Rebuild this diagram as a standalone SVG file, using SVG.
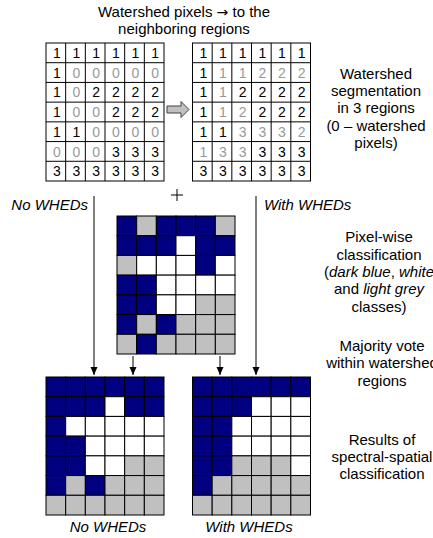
<svg xmlns="http://www.w3.org/2000/svg" width="433" height="538" viewBox="0 0 433 538">
<defs>
<style>
text{font-family:"Liberation Sans",Arial,sans-serif;font-size:15px;fill:#000}
.lbl{text-anchor:middle}
.it{font-style:italic}
.arr{font-family:"DejaVu Sans",sans-serif;font-size:14px}
.d{font-size:14px;text-anchor:middle}
.gd{fill:#999}
.c rect{stroke:#000;stroke-width:1}
.b{fill:#000080}.g{fill:#c0c0c0}.w{fill:#fff}
.ln{stroke:#000;stroke-width:1;fill:none}
</style>
<marker id="ah" markerUnits="userSpaceOnUse" markerWidth="8" markerHeight="8" refX="8" refY="3.5" orient="auto">
<path d="M0,0 L8,3.5 L0,7 z" fill="#000"/>
</marker>
</defs>
<rect width="433" height="538" fill="#fff"/>

<g id="title">
<text class="lbl" x="184" y="17">Watershed pixels <tspan class="arr">→</tspan> to the</text>
<text class="lbl" x="184" y="34">neighboring regions</text>
</g>

<g id="grid-watershed" class="c" transform="translate(46,43)">
<rect class="w" x="0" y="0" width="118" height="138"/>
<path class="ln" d="M19.67,0V138M39.33,0V138M59,0V138M78.67,0V138M98.33,0V138M0,19.71H118M0,39.43H118M0,59.14H118M0,78.86H118M0,98.57H118M0,118.29H118"/>
<g>
<text class="d" x="10.8" y="15">1</text><text class="d" x="30.5" y="15">1</text><text class="d" x="50.2" y="15">1</text><text class="d" x="69.8" y="15">1</text><text class="d" x="89.5" y="15">1</text><text class="d" x="109.2" y="15">1</text>
<text class="d" x="10.8" y="34.7">1</text><text class="d gd" x="30.5" y="34.7">0</text><text class="d gd" x="50.2" y="34.7">0</text><text class="d gd" x="69.8" y="34.7">0</text><text class="d gd" x="89.5" y="34.7">0</text><text class="d gd" x="109.2" y="34.7">0</text>
<text class="d" x="10.8" y="54.4">1</text><text class="d gd" x="30.5" y="54.4">0</text><text class="d" x="50.2" y="54.4">2</text><text class="d" x="69.8" y="54.4">2</text><text class="d" x="89.5" y="54.4">2</text><text class="d" x="109.2" y="54.4">2</text>
<text class="d" x="10.8" y="74.1">1</text><text class="d gd" x="30.5" y="74.1">0</text><text class="d gd" x="50.2" y="74.1">0</text><text class="d" x="69.8" y="74.1">2</text><text class="d" x="89.5" y="74.1">2</text><text class="d" x="109.2" y="74.1">2</text>
<text class="d" x="10.8" y="93.9">1</text><text class="d" x="30.5" y="93.9">1</text><text class="d gd" x="50.2" y="93.9">0</text><text class="d gd" x="69.8" y="93.9">0</text><text class="d gd" x="89.5" y="93.9">0</text><text class="d gd" x="109.2" y="93.9">0</text>
<text class="d gd" x="10.8" y="113.6">0</text><text class="d gd" x="30.5" y="113.6">0</text><text class="d gd" x="50.2" y="113.6">0</text><text class="d" x="69.8" y="113.6">3</text><text class="d" x="89.5" y="113.6">3</text><text class="d" x="109.2" y="113.6">3</text>
<text class="d" x="10.8" y="133.3">3</text><text class="d" x="30.5" y="133.3">3</text><text class="d" x="50.2" y="133.3">3</text><text class="d" x="69.8" y="133.3">3</text><text class="d" x="89.5" y="133.3">3</text><text class="d" x="109.2" y="133.3">3</text>
</g>
</g>

<g id="block-arrow">
<polygon points="167,106 181,106 181,101.5 189,109.5 181,117.5 181,113 167,113" fill="#c0c0c0" stroke="#404040" stroke-width="1"/>
</g>

<g id="grid-filled" class="c" transform="translate(192.5,43)">
<rect class="w" x="0" y="0" width="118" height="138"/>
<path class="ln" d="M19.67,0V138M39.33,0V138M59,0V138M78.67,0V138M98.33,0V138M0,19.71H118M0,39.43H118M0,59.14H118M0,78.86H118M0,98.57H118M0,118.29H118"/>
<g>
<text class="d" x="10.8" y="15">1</text><text class="d" x="30.5" y="15">1</text><text class="d" x="50.2" y="15">1</text><text class="d" x="69.8" y="15">1</text><text class="d" x="89.5" y="15">1</text><text class="d" x="109.2" y="15">1</text>
<text class="d" x="10.8" y="34.7">1</text><text class="d gd" x="30.5" y="34.7">1</text><text class="d gd" x="50.2" y="34.7">1</text><text class="d gd" x="69.8" y="34.7">2</text><text class="d gd" x="89.5" y="34.7">2</text><text class="d gd" x="109.2" y="34.7">2</text>
<text class="d" x="10.8" y="54.4">1</text><text class="d gd" x="30.5" y="54.4">1</text><text class="d" x="50.2" y="54.4">2</text><text class="d" x="69.8" y="54.4">2</text><text class="d" x="89.5" y="54.4">2</text><text class="d" x="109.2" y="54.4">2</text>
<text class="d" x="10.8" y="74.1">1</text><text class="d gd" x="30.5" y="74.1">1</text><text class="d gd" x="50.2" y="74.1">2</text><text class="d" x="69.8" y="74.1">2</text><text class="d" x="89.5" y="74.1">2</text><text class="d" x="109.2" y="74.1">2</text>
<text class="d" x="10.8" y="93.9">1</text><text class="d" x="30.5" y="93.9">1</text><text class="d gd" x="50.2" y="93.9">3</text><text class="d gd" x="69.8" y="93.9">3</text><text class="d gd" x="89.5" y="93.9">3</text><text class="d gd" x="109.2" y="93.9">2</text>
<text class="d gd" x="10.8" y="113.6">1</text><text class="d gd" x="30.5" y="113.6">3</text><text class="d gd" x="50.2" y="113.6">3</text><text class="d" x="69.8" y="113.6">3</text><text class="d" x="89.5" y="113.6">3</text><text class="d" x="109.2" y="113.6">3</text>
<text class="d" x="10.8" y="133.3">3</text><text class="d" x="30.5" y="133.3">3</text><text class="d" x="50.2" y="133.3">3</text><text class="d" x="69.8" y="133.3">3</text><text class="d" x="89.5" y="133.3">3</text><text class="d" x="109.2" y="133.3">3</text>
</g>
</g>

<g id="label-watershed">
<text class="lbl" x="376" y="79">Watershed</text>
<text class="lbl" x="376" y="96">segmentation</text>
<text class="lbl" x="376" y="113">in 3 regions</text>
<text class="lbl" x="376" y="131">(0 – watershed</text>
<text class="lbl" x="376" y="148">pixels)</text>
</g>

<g id="plus">
<path class="ln" d="M171,195H183M177,189V201"/>
</g>

<g id="label-no-top"><text class="it" x="88" y="210" text-anchor="end">No WHEDs</text></g>
<g id="label-with-top"><text class="it" x="264" y="210">With WHEDs</text></g>

<g id="grid-pixelwise" class="c" transform="translate(117,216)">
<rect class="b" x="0" y="0" width="19.67" height="19.71"/><rect class="g" x="19.67" y="0" width="19.67" height="19.71"/><rect class="b" x="39.33" y="0" width="19.67" height="19.71"/><rect class="b" x="59" y="0" width="19.67" height="19.71"/><rect class="b" x="78.67" y="0" width="19.67" height="19.71"/><rect class="g" x="98.33" y="0" width="19.67" height="19.71"/>
<rect class="b" x="0" y="19.71" width="19.67" height="19.71"/><rect class="b" x="19.67" y="19.71" width="19.67" height="19.71"/><rect class="b" x="39.33" y="19.71" width="19.67" height="19.71"/><rect class="w" x="59" y="19.71" width="19.67" height="19.71"/><rect class="b" x="78.67" y="19.71" width="19.67" height="19.71"/><rect class="b" x="98.33" y="19.71" width="19.67" height="19.71"/>
<rect class="g" x="0" y="39.43" width="19.67" height="19.71"/><rect class="w" x="19.67" y="39.43" width="19.67" height="19.71"/><rect class="w" x="39.33" y="39.43" width="19.67" height="19.71"/><rect class="w" x="59" y="39.43" width="19.67" height="19.71"/><rect class="b" x="78.67" y="39.43" width="19.67" height="19.71"/><rect class="w" x="98.33" y="39.43" width="19.67" height="19.71"/>
<rect class="b" x="0" y="59.14" width="19.67" height="19.71"/><rect class="b" x="19.67" y="59.14" width="19.67" height="19.71"/><rect class="w" x="39.33" y="59.14" width="19.67" height="19.71"/><rect class="w" x="59" y="59.14" width="19.67" height="19.71"/><rect class="w" x="78.67" y="59.14" width="19.67" height="19.71"/><rect class="w" x="98.33" y="59.14" width="19.67" height="19.71"/>
<rect class="b" x="0" y="78.86" width="19.67" height="19.71"/><rect class="b" x="19.67" y="78.86" width="19.67" height="19.71"/><rect class="w" x="39.33" y="78.86" width="19.67" height="19.71"/><rect class="w" x="59" y="78.86" width="19.67" height="19.71"/><rect class="g" x="78.67" y="78.86" width="19.67" height="19.71"/><rect class="g" x="98.33" y="78.86" width="19.67" height="19.71"/>
<rect class="b" x="0" y="98.57" width="19.67" height="19.71"/><rect class="g" x="19.67" y="98.57" width="19.67" height="19.71"/><rect class="b" x="39.33" y="98.57" width="19.67" height="19.71"/><rect class="g" x="59" y="98.57" width="19.67" height="19.71"/><rect class="g" x="78.67" y="98.57" width="19.67" height="19.71"/><rect class="g" x="98.33" y="98.57" width="19.67" height="19.71"/>
<rect class="g" x="0" y="118.29" width="19.67" height="19.71"/><rect class="b" x="19.67" y="118.29" width="19.67" height="19.71"/><rect class="g" x="39.33" y="118.29" width="19.67" height="19.71"/><rect class="g" x="59" y="118.29" width="19.67" height="19.71"/><rect class="g" x="78.67" y="118.29" width="19.67" height="19.71"/><rect class="g" x="98.33" y="118.29" width="19.67" height="19.71"/>
</g>

<g id="label-pixelwise">
<text class="lbl" x="379" y="242">Pixel-wise</text>
<text class="lbl" x="379" y="260">classification</text>
<text class="lbl" x="379" y="277">(<tspan class="it">dark blue</tspan>, <tspan class="it">white</tspan></text>
<text class="lbl" x="379" y="294">and <tspan class="it">light grey</tspan></text>
<text class="lbl" x="379" y="312">classes)</text>
</g>

<g id="label-majority">
<text class="lbl" x="382" y="351">Majority vote</text>
<text class="lbl" x="382" y="368">within watershed</text>
<text class="lbl" x="382" y="386">regions</text>
</g>

<g id="connectors">
<path class="ln" d="M94,196V375" marker-end="url(#ah)"/>
<path class="ln" d="M256,196V375" marker-end="url(#ah)"/>
<path class="ln" d="M133,356V375" marker-end="url(#ah)"/>
<path class="ln" d="M220,356V375" marker-end="url(#ah)"/>
</g>

<g id="grid-result-no" class="c" transform="translate(46,377)">
<rect class="b" x="0" y="0" width="19.67" height="19.71"/><rect class="b" x="19.67" y="0" width="19.67" height="19.71"/><rect class="b" x="39.33" y="0" width="19.67" height="19.71"/><rect class="b" x="59" y="0" width="19.67" height="19.71"/><rect class="b" x="78.67" y="0" width="19.67" height="19.71"/><rect class="b" x="98.33" y="0" width="19.67" height="19.71"/>
<rect class="b" x="0" y="19.71" width="19.67" height="19.71"/><rect class="b" x="19.67" y="19.71" width="19.67" height="19.71"/><rect class="b" x="39.33" y="19.71" width="19.67" height="19.71"/><rect class="w" x="59" y="19.71" width="19.67" height="19.71"/><rect class="b" x="78.67" y="19.71" width="19.67" height="19.71"/><rect class="b" x="98.33" y="19.71" width="19.67" height="19.71"/>
<rect class="b" x="0" y="39.43" width="19.67" height="19.71"/><rect class="w" x="19.67" y="39.43" width="19.67" height="19.71"/><rect class="w" x="39.33" y="39.43" width="19.67" height="19.71"/><rect class="w" x="59" y="39.43" width="19.67" height="19.71"/><rect class="w" x="78.67" y="39.43" width="19.67" height="19.71"/><rect class="w" x="98.33" y="39.43" width="19.67" height="19.71"/>
<rect class="b" x="0" y="59.14" width="19.67" height="19.71"/><rect class="b" x="19.67" y="59.14" width="19.67" height="19.71"/><rect class="w" x="39.33" y="59.14" width="19.67" height="19.71"/><rect class="w" x="59" y="59.14" width="19.67" height="19.71"/><rect class="w" x="78.67" y="59.14" width="19.67" height="19.71"/><rect class="w" x="98.33" y="59.14" width="19.67" height="19.71"/>
<rect class="b" x="0" y="78.86" width="19.67" height="19.71"/><rect class="b" x="19.67" y="78.86" width="19.67" height="19.71"/><rect class="w" x="39.33" y="78.86" width="19.67" height="19.71"/><rect class="w" x="59" y="78.86" width="19.67" height="19.71"/><rect class="g" x="78.67" y="78.86" width="19.67" height="19.71"/><rect class="g" x="98.33" y="78.86" width="19.67" height="19.71"/>
<rect class="b" x="0" y="98.57" width="19.67" height="19.71"/><rect class="g" x="19.67" y="98.57" width="19.67" height="19.71"/><rect class="b" x="39.33" y="98.57" width="19.67" height="19.71"/><rect class="g" x="59" y="98.57" width="19.67" height="19.71"/><rect class="g" x="78.67" y="98.57" width="19.67" height="19.71"/><rect class="g" x="98.33" y="98.57" width="19.67" height="19.71"/>
<rect class="g" x="0" y="118.29" width="19.67" height="19.71"/><rect class="g" x="19.67" y="118.29" width="19.67" height="19.71"/><rect class="g" x="39.33" y="118.29" width="19.67" height="19.71"/><rect class="g" x="59" y="118.29" width="19.67" height="19.71"/><rect class="g" x="78.67" y="118.29" width="19.67" height="19.71"/><rect class="g" x="98.33" y="118.29" width="19.67" height="19.71"/>
</g>

<g id="grid-result-with" class="c" transform="translate(192.5,377)">
<rect class="b" x="0" y="0" width="19.67" height="19.71"/><rect class="b" x="19.67" y="0" width="19.67" height="19.71"/><rect class="b" x="39.33" y="0" width="19.67" height="19.71"/><rect class="b" x="59" y="0" width="19.67" height="19.71"/><rect class="b" x="78.67" y="0" width="19.67" height="19.71"/><rect class="b" x="98.33" y="0" width="19.67" height="19.71"/>
<rect class="b" x="0" y="19.71" width="19.67" height="19.71"/><rect class="b" x="19.67" y="19.71" width="19.67" height="19.71"/><rect class="b" x="39.33" y="19.71" width="19.67" height="19.71"/><rect class="w" x="59" y="19.71" width="19.67" height="19.71"/><rect class="w" x="78.67" y="19.71" width="19.67" height="19.71"/><rect class="w" x="98.33" y="19.71" width="19.67" height="19.71"/>
<rect class="b" x="0" y="39.43" width="19.67" height="19.71"/><rect class="b" x="19.67" y="39.43" width="19.67" height="19.71"/><rect class="w" x="39.33" y="39.43" width="19.67" height="19.71"/><rect class="w" x="59" y="39.43" width="19.67" height="19.71"/><rect class="w" x="78.67" y="39.43" width="19.67" height="19.71"/><rect class="w" x="98.33" y="39.43" width="19.67" height="19.71"/>
<rect class="b" x="0" y="59.14" width="19.67" height="19.71"/><rect class="b" x="19.67" y="59.14" width="19.67" height="19.71"/><rect class="w" x="39.33" y="59.14" width="19.67" height="19.71"/><rect class="w" x="59" y="59.14" width="19.67" height="19.71"/><rect class="w" x="78.67" y="59.14" width="19.67" height="19.71"/><rect class="w" x="98.33" y="59.14" width="19.67" height="19.71"/>
<rect class="b" x="0" y="78.86" width="19.67" height="19.71"/><rect class="b" x="19.67" y="78.86" width="19.67" height="19.71"/><rect class="g" x="39.33" y="78.86" width="19.67" height="19.71"/><rect class="g" x="59" y="78.86" width="19.67" height="19.71"/><rect class="g" x="78.67" y="78.86" width="19.67" height="19.71"/><rect class="w" x="98.33" y="78.86" width="19.67" height="19.71"/>
<rect class="b" x="0" y="98.57" width="19.67" height="19.71"/><rect class="g" x="19.67" y="98.57" width="19.67" height="19.71"/><rect class="g" x="39.33" y="98.57" width="19.67" height="19.71"/><rect class="g" x="59" y="98.57" width="19.67" height="19.71"/><rect class="g" x="78.67" y="98.57" width="19.67" height="19.71"/><rect class="g" x="98.33" y="98.57" width="19.67" height="19.71"/>
<rect class="g" x="0" y="118.29" width="19.67" height="19.71"/><rect class="g" x="19.67" y="118.29" width="19.67" height="19.71"/><rect class="g" x="39.33" y="118.29" width="19.67" height="19.71"/><rect class="g" x="59" y="118.29" width="19.67" height="19.71"/><rect class="g" x="78.67" y="118.29" width="19.67" height="19.71"/><rect class="g" x="98.33" y="118.29" width="19.67" height="19.71"/>
</g>

<g id="label-results">
<text class="lbl" x="382" y="445">Results of</text>
<text class="lbl" x="382" y="462">spectral-spatial</text>
<text class="lbl" x="382" y="479">classification</text>
</g>

<g id="label-no-bottom"><text class="lbl it" x="108" y="532">No WHEDs</text></g>
<g id="label-with-bottom"><text class="lbl it" x="249" y="532">With WHEDs</text></g>
</svg>
